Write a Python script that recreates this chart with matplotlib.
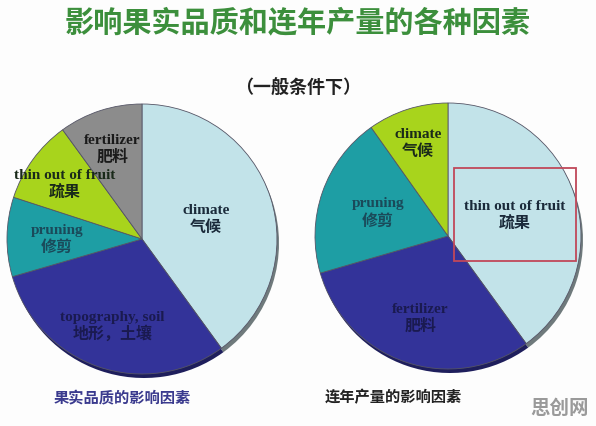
import numpy as np
import matplotlib.pyplot as plt
from matplotlib.patches import Rectangle

plt.rcParams['font.family'] = ['Noto Sans CJK SC', 'DejaVu Sans']

# left pie: fruit quality factors
left_en = ["climate", "topography, soil", "pruning", "thin out of fruit", "fertilizer"]
left_cn = ["气候", "地形，土壤", "修剪", "疏果", "肥料"]
left_vals = [40, 30.5, 9.5, 10, 10]

# right pie: yearly yield factors
right_en = ["thin out of fruit", "fertilizer", "pruning", "climate"]
right_cn = ["疏果", "肥料", "修剪", "气候"]
right_vals = [40, 30.5, 19.7, 9.8]

title = "影响果实品质和连年产量的各种因素"
subtitle = "（一般条件下）"
left_caption = "果实品质的影响因素"
right_caption = "连年产量的影响因素"

rim = {"#c2e3e9": "#6f7a7c", "#333399": "#1e1e5c", "#8c8c8c": "#5a5a5a",
       "#1e9ea4": "#14686c", "#a8d41c": "#6c8a12"}

left_cols = ["#c2e3e9", "#333399", "#1e9ea4", "#a8d41c", "#8c8c8c"]
right_cols = ["#c2e3e9", "#333399", "#1e9ea4", "#a8d41c"]

left_txt = ["#1a2a3a", "#1a1a50", "#1a4a5a", "#1a2a1a", "#1a1a1a"]
right_txt = ["#1a2a3a", "#1a1a50", "#1a4a5a", "#1a2a1a"]

left_dist = [0.5, 0.67, 0.63, 0.71, 0.71]
right_dist = [0.53, 0.64, 0.56, 0.74]

W, H = 596, 426
fig = plt.figure(figsize=(W / 100, H / 100), dpi=100)
fig.patch.set_facecolor("#fdfdfd")
ax = fig.add_axes([0, 0, 1, 1])
ax.set_xlim(0, W)
ax.set_ylim(0, H)
ax.set_aspect("equal")
ax.axis("off")


def draw_pie(vals, cols, en, cn, tcols, dists, cx, cy, r):
    # darker copy underneath for the 3d rim
    ax.pie(vals, colors=[rim[c] for c in cols], startangle=90, counterclock=False,
           center=(cx + 2, cy - 4), radius=r, frame=True,
           wedgeprops=dict(linewidth=0))
    wedges, _ = ax.pie(vals, colors=cols, startangle=90, counterclock=False,
                       center=(cx, cy), radius=r, frame=True,
                       wedgeprops=dict(linewidth=0.6, edgecolor="#555566"))
    pos = []
    for w, e, c, tc, d in zip(wedges, en, cn, tcols, dists):
        a = np.deg2rad((w.theta1 + w.theta2) / 2)
        x = cx + d * r * np.cos(a)
        y = cy + d * r * np.sin(a)
        ax.text(x, y + 1, e, ha="center", va="bottom", fontsize=11,
                family="Liberation Serif", fontweight="bold", color=tc)
        ax.text(x, y - 1, c, ha="center", va="top", fontsize=11.5,
                fontweight="bold", color=tc)
        pos.append((x, y))
    return pos


draw_pie(left_vals, left_cols, left_en, left_cn, left_txt, left_dist, 142, H - 239, 135)
rpos = draw_pie(right_vals, right_cols, right_en, right_cn, right_txt, right_dist,
                448, H - 236, 133)

# red highlight box around the right "thin out of fruit" label
bx, by = rpos[0]
ax.add_patch(Rectangle((bx - 61, by - 47), 122, 93, fill=False,
                       edgecolor="#c0485a", linewidth=1.3))

ax.set_xlim(0, W)
ax.set_ylim(0, H)

fig.text(0.5, 1 - 22 / H, title, ha="center", va="center", fontsize=21,
         fontweight="bold", color="#3c8f3c")
fig.text(0.5, 1 - 88 / H, subtitle, ha="center", va="center", fontsize=13,
         fontweight="bold", color="#222222")
fig.text(122 / W, 1 - 398 / H, left_caption, ha="center", va="center", fontsize=11,
         fontweight="bold", color="#3a3a8e")
fig.text(393 / W, 1 - 397 / H, right_caption, ha="center", va="center", fontsize=11,
         fontweight="bold", color="#222222")
fig.text(560 / W, 1 - 408 / H, "思创网", ha="center", va="center", fontsize=14,
         fontweight="bold", color="#9a9a9a")

fig.savefig("out.png", dpi=100, facecolor=fig.get_facecolor())
